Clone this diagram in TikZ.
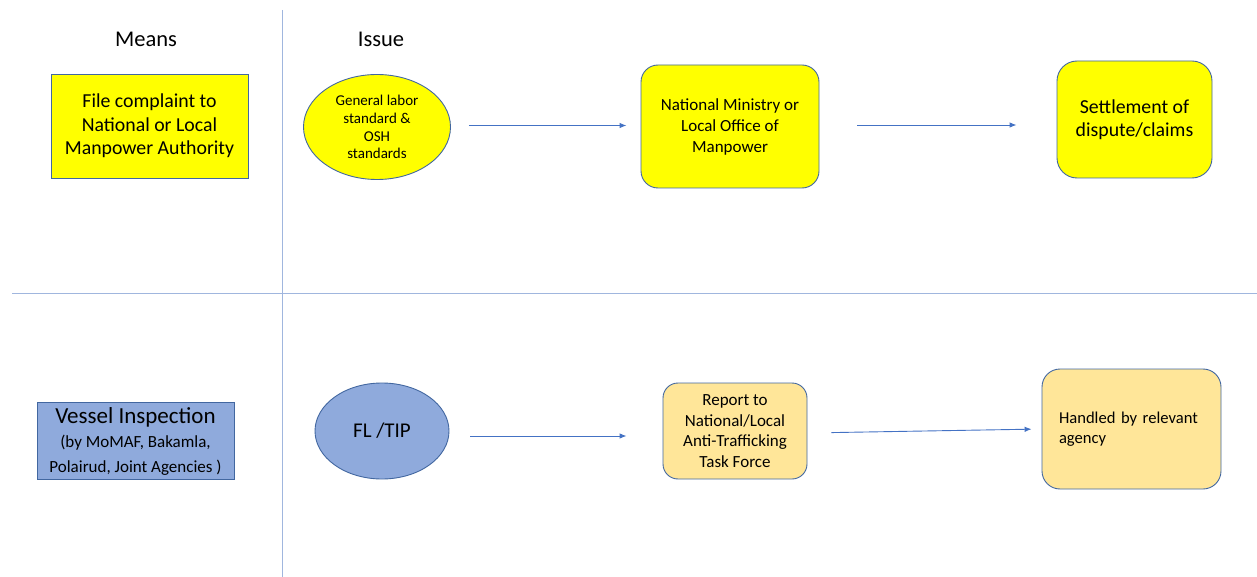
\documentclass[tikz,border=0pt]{standalone}
\usepackage{fontspec}
\setmainfont{Carlito}
\usetikzlibrary{arrows.meta,shapes.geometric,calc}
\definecolor{bordc}{RGB}{66,103,160}
\definecolor{arrc}{RGB}{68,114,196}
\definecolor{sepc}{RGB}{160,182,222}
\definecolor{yel}{RGB}{255,255,0}
\definecolor{bluf}{RGB}{143,170,220}
\definecolor{orf}{RGB}{255,230,153}
\tikzset{
  box/.style={draw=bordc,line width=0.9pt,inner sep=0pt,align=center},
  rbox/.style={box,rounded corners=17pt},
  oval/.style={box,ellipse},
  flow/.style={draw=arrc,line width=0.9pt,-{Latex[length=7pt,width=5.5pt]}},
  sep/.style={draw=sepc,line width=1pt},
  head/.style={font=\fontsize{22.5}{26}\selectfont,inner sep=0pt}
}
\begin{document}
\begin{tikzpicture}[x=1pt,y=-1pt]
\useasboundingbox (0,0) rectangle (1257,577);
\draw[sep] (282,10) coordinate (vt) -- (282,577) coordinate (vb);
\draw[sep] (12,293) coordinate (hl) -- (1257,293) coordinate (hr);
\node[head] (means) at (146,39) {Means};
\node[head] (issue) at (381,39) {Issue};
% top row
\node[box,fill=yel,minimum width=197pt,minimum height=104pt,
  font=\fontsize{19.8}{23.5}\selectfont] (fc) at (149.5,126)
  {File complaint to\\National or Local\\Manpower Authority};
\node[oval,fill=yel,minimum width=147pt,minimum height=105pt,
  font=\fontsize{15}{17.7}\selectfont] (gl) at (377,127)
  {General labor\\standard \&\\OSH\\standards};
\node[rbox,fill=yel,minimum width=178pt,minimum height=123pt,
  font=\fontsize{17}{21}\selectfont] (nm) at (730,126.5)
  {National Ministry or\\Local Office of\\Manpower};
\node[rbox,fill=yel,minimum width=155pt,minimum height=117pt,
  rounded corners=20pt,
  font=\fontsize{19.8}{23}\selectfont] (st) at (1134.5,119.5)
  {Settlement of\\dispute/claims};
\coordinate (a1) at ($(gl.east)+(0,-1.5)$);
\coordinate (a2) at ($(nm.east)+(0,-1.5)$);
\draw[flow,shorten <=18pt,shorten >=14pt] (a1) -- (a1 -| nm.west);
\draw[flow,shorten <=38pt,shorten >=40pt] (a2) -- (a2 -| st.west);
% bottom row
\node[box,fill=bluf,minimum width=197pt,minimum height=77pt,
  font=\fontsize{23}{25}\selectfont] (vi) at (135.5,441)
  {Vessel Inspection\\[-1pt]
   \fontsize{17}{20}\selectfont (by MoMAF, Bakamla,\\
   \fontsize{17}{20}\selectfont Polairud, Joint Agencies )};
\node[oval,fill=bluf,minimum width=134pt,minimum height=96pt,
  font=\fontsize{21}{25}\selectfont] (fl) at (382,431) {FL /TIP};
\node[rbox,fill=orf,minimum width=144pt,minimum height=96pt,
  rounded corners=15pt,
  font=\fontsize{17}{20.7}\selectfont] (rt) at (735,431)
  {Report to\\National/Local\\Anti-Trafficking\\Task Force};
\node[rbox,fill=orf,minimum width=179pt,minimum height=120pt,
  rounded corners=18pt,text width=145pt,align=left,
  font=\fontsize{16.6}{20.5}\selectfont] (hd) at (1131.5,429)
  {Handled by relevant\\agency};
\coordinate (a3) at ($(fl.east)+(0,5)$);
\draw[flow,shorten <=21pt,shorten >=36pt] (a3) -- (a3 -| rt.west);
\draw[flow,shorten <=24pt,shorten >=10pt] ($(rt.east)+(0,2)$) -- (hd.west);
\end{tikzpicture}
\end{document}
